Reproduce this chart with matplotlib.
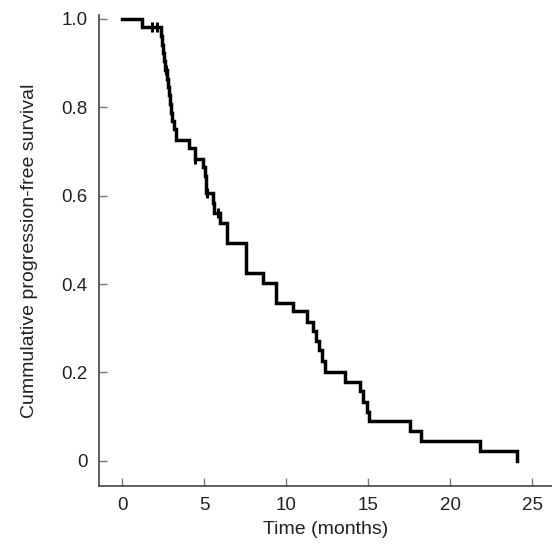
import matplotlib.pyplot as plt

plt.rcParams['font.family'] = ['Liberation Sans', 'DejaVu Sans']

# step times (months) and survival after each step
times = [0, 1.17, 2.35, 2.41, 2.47, 2.53, 2.59, 2.71, 2.80, 2.87, 2.93, 2.99, 3.05,
         3.14, 3.24, 4.05, 4.42, 4.93, 5.03, 5.08, 5.12, 5.50, 5.60, 5.95, 6.35,
         7.53, 8.58, 9.36, 10.38, 11.27, 11.60, 11.80, 12.00, 12.20, 12.35, 13.57,
         14.48, 14.65, 14.89, 15.05, 17.53, 18.24, 21.80, 24.04]
surv = [1.0, 0.981, 0.962, 0.942, 0.923, 0.904, 0.885, 0.865, 0.846, 0.827, 0.808,
        0.788, 0.769, 0.750, 0.727, 0.707, 0.683, 0.666, 0.645, 0.625, 0.606, 0.583,
        0.560, 0.538, 0.4925, 0.425, 0.403, 0.358, 0.338, 0.315, 0.293, 0.270, 0.250,
        0.225, 0.200, 0.178, 0.157, 0.134, 0.111, 0.089, 0.067, 0.044, 0.022, 0.0]

# censored observations
cens_t = [1.78, 2.12, 2.65, 4.45, 5.15, 5.85]
cens_s = [0.981, 0.981, 0.885, 0.683, 0.606, 0.560]

xticks = [0, 5, 10, 15, 20, 25]
yticks = [0, 0.2, 0.4, 0.6, 0.8, 1.0]
ytick_labels = ["0", "0.2", "0.4", "0.6", "0.8", "1.0"]

fig = plt.figure(figsize=(5.52, 5.45), dpi=100)
ax = fig.add_axes([0.1793, 0.1083, 0.8207, 0.8642])

ax.step(times, surv, where="post", color="black", lw=2.5, solid_joinstyle="miter")
ax.plot(cens_t, cens_s, ls="none", marker="|", color="black", ms=7, mew=2.2)

ax.set_xlim(-1.43, 26.2)
ax.set_ylim(-0.057, 1.009)
ax.set_xticks(xticks)
ax.set_yticks(yticks)
ax.set_yticklabels(ytick_labels)

for side in ["top", "right"]:
    ax.spines[side].set_visible(False)
for side in ["left", "bottom"]:
    ax.spines[side].set_color("#444444")
    ax.spines[side].set_linewidth(1.2)

ax.tick_params(direction="in", length=6, width=1, color="#777777",
               labelsize=13.5, labelcolor="#222222", pad=8)

ax.set_xlabel("Time (months)", fontsize=14, color="#222222", labelpad=5)
ax.set_ylabel("Cummulative progression-free survival", fontsize=14,
              color="#222222", labelpad=17)

fig.savefig("out.png", dpi=100)
